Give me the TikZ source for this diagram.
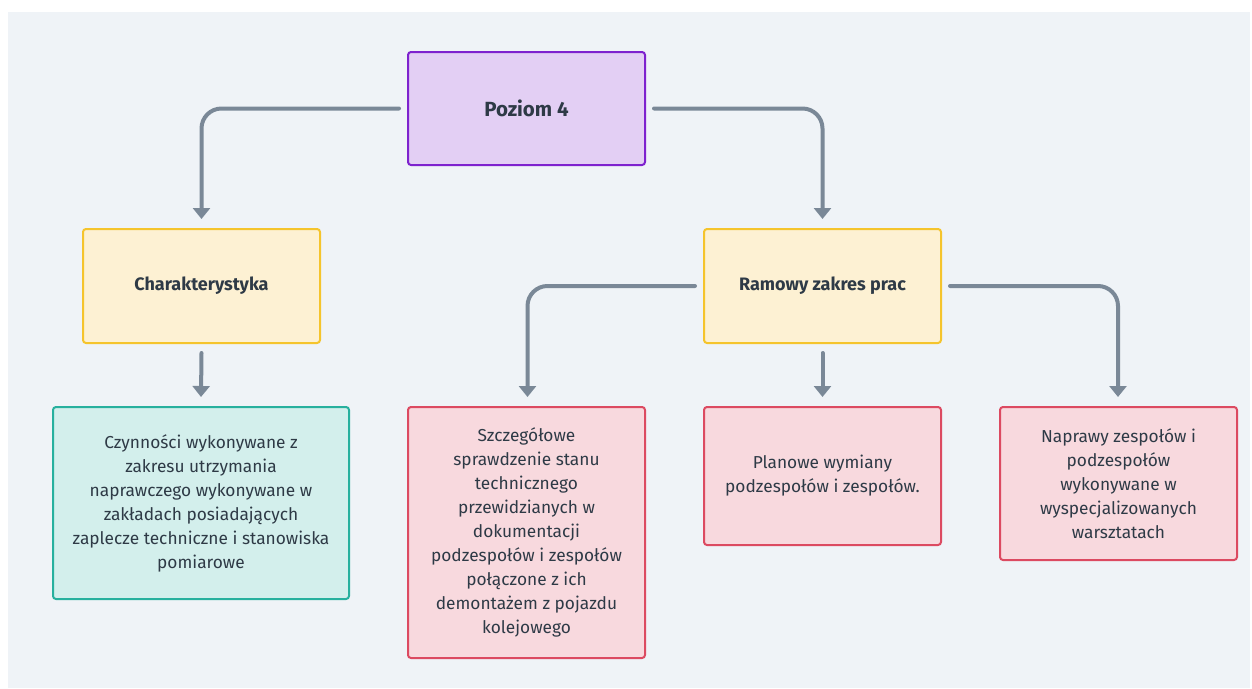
\documentclass[tikz,border=0pt]{standalone}
\usepackage{fontspec}
\setmainfont{Fira Sans}
\usetikzlibrary{arrows.meta}

\definecolor{canvas}{HTML}{EFF3F7}
\definecolor{linkgray}{HTML}{7A8897}
\definecolor{txt}{HTML}{2E3A46}
\definecolor{topfill}{HTML}{E3CFF4}
\definecolor{topline}{HTML}{7E22CE}
\definecolor{midfill}{HTML}{FDF1D3}
\definecolor{midline}{HTML}{F5C42C}
\definecolor{tealfill}{HTML}{D3EFEC}
\definecolor{tealline}{HTML}{27B09E}
\definecolor{redfill}{HTML}{F8D9DE}
\definecolor{redline}{HTML}{DC4A61}

\tikzset{
  x=1pt, y=-1pt,
  card/.style={draw, line width=2pt, rounded corners=3pt, align=center,
    text=txt, inner sep=0pt, font=\fontsize{17.3}{24}\selectfont},
  topcard/.style={card, fill=topfill, draw=topline, font=\fontsize{20.5}{24}\selectfont\bfseries},
  midcard/.style={card, fill=midfill, draw=midline, font=\fontsize{18}{24}\selectfont\bfseries},
  tealcard/.style={card, fill=tealfill, draw=tealline},
  redcard/.style={card, fill=redfill, draw=redline},
  link/.style={draw=linkgray, line width=4pt, line cap=round, rounded corners=20pt,
    -{Triangle[width=17pt,length=11pt]}},
}

\begin{document}
\begin{tikzpicture}
  \useasboundingbox (0,0) rectangle (1252,688);
  \fill[canvas] (8,12) rectangle (1250,688);

  % boxes, placed by their centres
  \node[topcard, minimum width=237pt, minimum height=113pt] (top) at (526.5,108.5) {Poziom 4};
  \node[midcard, minimum width=237pt, minimum height=114pt] (char) at (201.5,286) {Charakterystyka};
  \node[midcard, minimum width=237pt, minimum height=114pt] (ramy) at (822.5,286) {Ramowy zakres prac};
  \node[tealcard, minimum width=296pt, minimum height=192pt] (czyn) at (201,503)
    {Czynności wykonywane z\\zakresu utrzymania\\naprawczego wykonywane w\\zakładach posiadających\\zaplecze techniczne i stanowiska\\pomiarowe};
  \node[redcard, minimum width=237pt, minimum height=251pt] (szcz) at (526.5,532.5)
    {Szczegółowe\\sprawdzenie stanu\\technicznego\\przewidzianych w\\dokumentacji\\podzespołów i zespołów\\połączone z ich\\demontażem z pojazdu\\kolejowego};
  \node[redcard, minimum width=237pt, minimum height=138pt] (plan) at (822.5,476)
    {Planowe wymiany\\podzespołów i zespołów.};
  \node[redcard, minimum width=237pt, minimum height=153pt] (napr) at (1118.5,483.5)
    {Naprawy zespołów i\\podzespołów\\wykonywane w\\wyspecjalizowanych\\warsztatach};

  % connector ends, kept a small gap away from the boxes
  \coordinate (topL) at ([xshift=-8pt]top.west);
  \coordinate (topR) at ([xshift=8pt]top.east);
  \coordinate (ramL) at ([xshift=-8pt]ramy.west);
  \coordinate (ramR) at ([xshift=8pt]ramy.east);
  \coordinate (charIn) at ([yshift=9pt]char.north);
  \coordinate (ramIn)  at ([yshift=9pt]ramy.north);
  \coordinate (charOut) at ([yshift=-9pt]char.south);
  \coordinate (ramOut)  at ([yshift=-9pt]ramy.south);
  \coordinate (czynIn) at ([yshift=9pt]czyn.north);
  \coordinate (szczIn) at ([xshift=1pt,yshift=9pt]szcz.north);
  \coordinate (planIn) at ([yshift=9pt]plan.north);
  \coordinate (naprIn) at ([xshift=-0.5pt,yshift=9pt]napr.north);

  \path[link] (topL) -| (charIn);
  \path[link] (topR) -| (ramIn);
  \path[link] (charOut) -- (czynIn);
  \path[link] (ramL) -| (szczIn);
  \path[link] (ramOut) -- (planIn);
  \path[link] (ramR) -| (naprIn);
\end{tikzpicture}
\end{document}
